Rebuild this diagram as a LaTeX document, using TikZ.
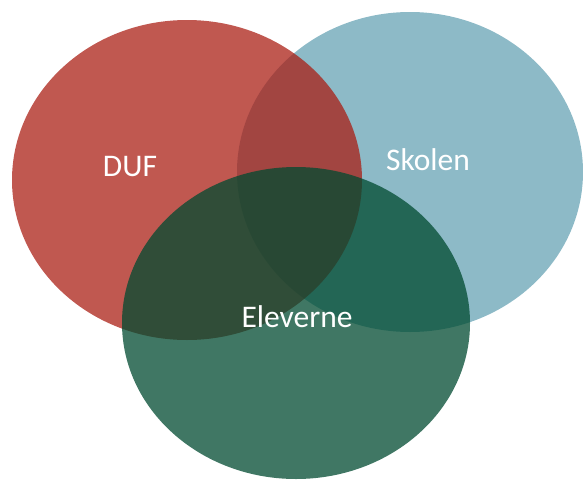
\documentclass[tikz,border=0pt]{standalone}
\usepackage{fontspec}
\setmainfont{Carlito}
\definecolor{duf}{RGB}{170,28,18}
\definecolor{skol}{RGB}{141,186,199}
\definecolor{elev}{RGB}{0,74,48}
\begin{document}
\begin{tikzpicture}[x=1pt,y=-1pt,
  lbl/.style={text=white,font=\fontsize{31.5}{36}\selectfont,inner sep=0pt}]
\useasboundingbox (0,0) rectangle (583,479);
\begin{scope}
\clip (0,0) rectangle (583,479);
\fill[skol] (410,172) ellipse [x radius=173, y radius=160];
\fill[duf,fill opacity=0.737] (187,180) ellipse [x radius=175, y radius=160];
\fill[elev,fill opacity=0.75] (296,323) ellipse [x radius=174, y radius=156];
\end{scope}
\node[lbl] (duf) at (130,167) {DUF};
\node[lbl] (skolen) at (428,160) {Skolen};
\node[lbl] (elev) at (297,317) {Eleverne};
\end{tikzpicture}
\end{document}
